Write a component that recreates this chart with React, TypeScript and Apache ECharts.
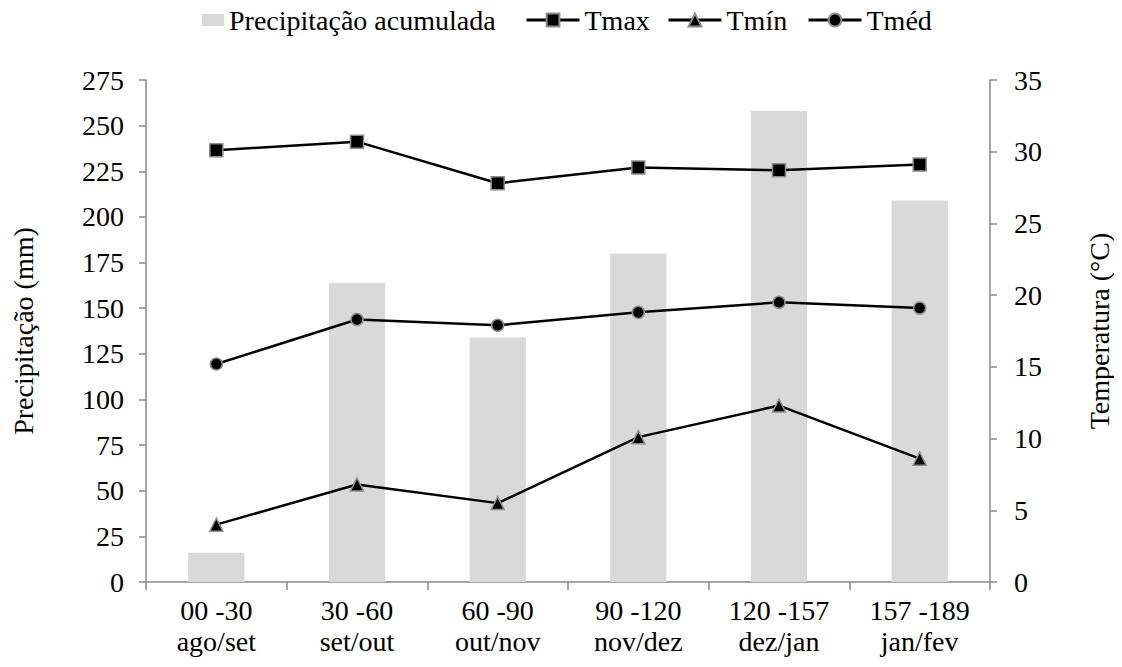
import React, { useEffect, useRef } from "react";
import * as echarts from "echarts";

const categories = ["00 -30\nago/set", "30 -60\nset/out", "60 -90\nout/nov", "90 -120\nnov/dez", "120 -157\ndez/jan", "157 -189\njan/fev"];
const precipitacao = [16, 164, 134, 180, 258, 209];
const tmax = [30.1, 30.7, 27.8, 28.9, 28.7, 29.1];
const tmin = [4.0, 6.8, 5.5, 10.1, 12.3, 8.6];
const tmed = [15.2, 18.3, 17.9, 18.8, 19.5, 19.1];

const FONT = "'Liberation Serif', 'Times New Roman', serif";
const FS = 28;

export default function App() {
  const ref = useRef<HTMLDivElement>(null);
  useEffect(() => {
    const chart = echarts.init(ref.current!, undefined, { renderer: "svg" });
    const axisLine = { show: true, lineStyle: { color: "#898989", width: 1.5 } };
    const tick = { show: true, length: 7, lineStyle: { color: "#898989", width: 1.5 } };
    const lineSeries = (name: string, data: number[], symbol: string, size: number) => ({
      name,
      type: "line",
      yAxisIndex: 1,
      data,
      symbol,
      symbolSize: size,
      lineStyle: { color: "#000", width: 2.5 },
      itemStyle: { color: "#000", borderColor: "#8c8c8c", borderWidth: 1.5 },
      z: 3,
    });
    const legendText = { fontFamily: FONT, fontSize: FS, color: "#000" };
    const lineLegend = (name: string, left: number) => ({
      top: 1,
      left,
      itemWidth: 53,
      itemHeight: 16,
      textStyle: legendText,
      lineStyle: { width: 3 },
      data: [name],
    });
    chart.setOption({
      animation: false,
      textStyle: { fontFamily: FONT },
      legend: [
        {
          top: 1,
          left: 197,
          itemWidth: 22,
          itemHeight: 12,
          textStyle: legendText,
          data: [{ name: "Precipitação acumulada", icon: "rect", itemStyle: { color: "#d9d9d9" } }],
        },
        lineLegend("Tmax", 520),
        lineLegend("Tmín", 662),
        lineLegend("Tméd", 802),
      ],
      grid: { left: 146, right: 132, top: 80, bottom: 85, outerBoundsMode: "none", containLabel: false },
      xAxis: {
        type: "category",
        data: categories,
        axisLine,
        axisTick: { ...tick, length: 8 },
        axisLabel: { fontFamily: FONT, fontSize: FS, color: "#000", lineHeight: 31, margin: 13 },
      },
      yAxis: [
        {
          type: "value",
          min: 0,
          max: 275,
          interval: 25,
          name: "Precipitação (mm)",
          nameLocation: "middle",
          nameGap: 109,
          nameRotate: 90,
          nameTextStyle: { fontFamily: FONT, fontSize: FS, color: "#000" },
          axisLine,
          axisTick: tick,
          axisLabel: { fontFamily: FONT, fontSize: FS, color: "#000", margin: 22 },
          splitLine: { show: false },
        },
        {
          type: "value",
          min: 0,
          max: 35,
          interval: 5,
          name: "Temperatura (°C)",
          nameLocation: "middle",
          nameGap: 95,
          nameRotate: 90,
          nameTextStyle: { fontFamily: FONT, fontSize: FS, color: "#000" },
          position: "right",
          axisLine,
          axisTick: tick,
          axisLabel: { fontFamily: FONT, fontSize: FS, color: "#000", margin: 24 },
          splitLine: { show: false },
        },
      ],
      series: [
        {
          name: "Precipitação acumulada",
          type: "bar",
          data: precipitacao,
          barWidth: "40%",
          itemStyle: { color: "#d9d9d9" },
          z: 2,
        },
        lineSeries("Tmax", tmax, "rect", 13),
        lineSeries("Tmín", tmin, "triangle", 13),
        lineSeries("Tméd", tmed, "circle", 12),
      ],
    });
    return () => chart.dispose();
  }, []);
  return <div ref={ref} style={{ width: 1122, height: 667, margin: -8 }} />;
}
